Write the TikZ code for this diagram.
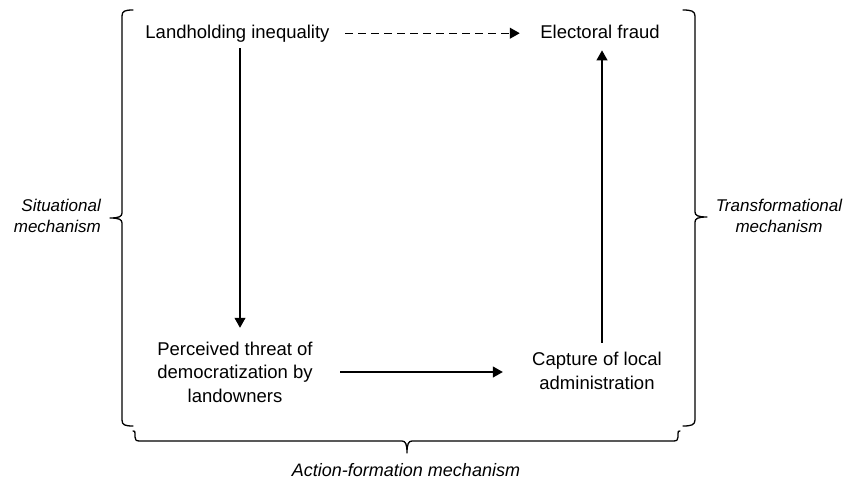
\documentclass[tikz,border=0pt]{standalone}
\usepackage{fontspec}
\setmainfont{Liberation Sans}
\usetikzlibrary{arrows.meta}
\begin{document}
\begin{tikzpicture}[x=1pt,y=-1pt,
  box/.style={inner sep=0pt, align=center, font=\fontsize{18.5}{23.5}\selectfont},
  tag/.style={inner sep=0pt, font=\fontsize{17}{21.5}\selectfont\itshape},
  arr/.style={line width=1.05pt, -{Triangle[length=10pt,width=11pt]}},
  brk/.style={line width=1.3pt, line join=round, line cap=round}]
\useasboundingbox (0,0) rectangle (858,479);

% concepts
\node[box, anchor=base] (li) at (237.5,38) {Landholding inequality};
\node[box, anchor=base] (ef) at (600,38.5) {Electoral fraud};
\node[box] (pt) at (235,372) {Perceived threat of\\democratization by\\landowners};
\node[box] (ca) at (597,371) {Capture of local\\administration};

% causal links
\draw[arr, dash pattern=on 7.5pt off 5.5pt, shorten <=15.5pt, shorten >=20.4pt]
  (li.east) -- (li.east -| ef.west);
\draw[arr, shorten <=6pt, shorten >=13.75pt]
  ([xshift=2.5pt]li.south) -- ([xshift=2.5pt]li.south |- pt.north);
\draw[arr, shorten <=27.4pt, shorten >=29.2pt]
  (pt.east) -- (pt.east -| ca.west);
\draw[arr, shorten <=9.75pt, shorten >=11.5pt]
  ([xshift=5pt]ca.north) -- ([xshift=5pt]ca.north |- ef.south);

% mechanism brackets
\draw[brk] (133,10) .. controls (125,10) and (122,11) .. (122,16) -- (122,213)
  .. controls (122,216.5) and (119,218) .. (110,218)
  .. controls (119,218) and (122,219.5) .. (122,223) -- (122,420)
  .. controls (122,425) and (125,426) .. (133,426);
\draw[brk] (683,10) .. controls (691,10) and (695,11) .. (695,16) -- (695,212)
  .. controls (695,215.5) and (698,217) .. (707,217)
  .. controls (698,217) and (695,218.5) .. (695,222) -- (695,420)
  .. controls (695,425) and (691,426) .. (683,426);
\draw[brk] (133,431) .. controls (135,431) .. (135,434) -- (135,437)
  .. controls (135,440) and (136,441) .. (140,441) -- (402,441)
  .. controls (405.5,441) and (407,444) .. (407,453)
  .. controls (407,444) and (408.5,441) .. (412,441) -- (673,441)
  .. controls (677,441) and (678,440) .. (678,437) -- (678,434)
  .. controls (678,431) .. (680,431);

% mechanism labels
\node[tag, align=right, anchor=east] (sit) at (101,216) {Situational\\mechanism};
\node[tag, align=center] (trans) at (779,216) {Transformational\\mechanism};
\node[tag, anchor=base, font=\fontsize{18}{21.5}\selectfont\itshape] (act) at (406,476) {Action-formation mechanism};
\end{tikzpicture}
\end{document}
